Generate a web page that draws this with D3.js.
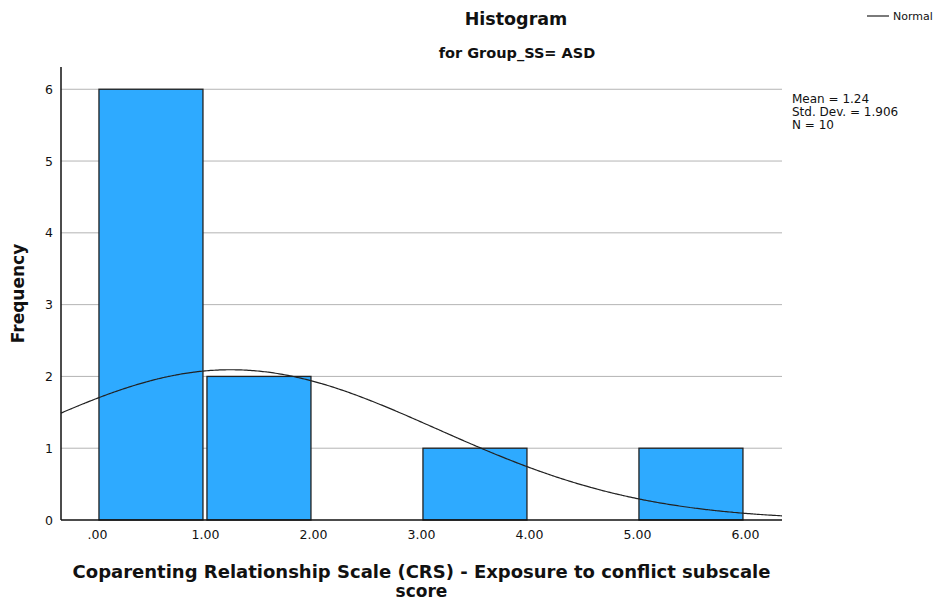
<!DOCTYPE html>
<html>
<head>
<meta charset="utf-8">
<script src="https://cdn.jsdelivr.net/npm/d3@7"></script>
<style>
  html, body { margin: 0; padding: 0; background: #fff; }
  svg { display: block; }
  text { font-family: "DejaVu Sans", "Liberation Sans", sans-serif; fill: #111; }
</style>
</head>
<body>
<svg id="chart" width="943" height="601"></svg>
<script>
// Histogram bins (lower edge, upper edge) and frequencies
const binStarts = [0, 1, 2, 3, 4, 5];
const binEnds   = [1, 2, 3, 4, 5, 6];
const counts    = [6, 2, 0, 1, 0, 1];

// Summary statistics shown beside the plot
const mean = 1.24;
const stdDev = 1.906;
const n = 10;

// Axis ticks
const xTicks = [0, 1, 2, 3, 4, 5, 6];
const yTicks = [0, 1, 2, 3, 4, 5, 6];

const svg = d3.select("#chart");
const plot = { left: 61, right: 782, top: 67, bottom: 520 };

const x = d3.scaleLinear().domain([-0.333, 6.343]).range([plot.left, plot.right]);
const y = d3.scaleLinear().domain([0, 6.31]).range([plot.bottom, plot.top]);

// Horizontal gridlines
svg.append("g")
  .selectAll("line")
  .data(yTicks.filter(d => d > 0))
  .join("line")
  .attr("x1", plot.left).attr("x2", plot.right)
  .attr("y1", d => y(d)).attr("y2", d => y(d))
  .attr("stroke", "#b4b4b4").attr("stroke-width", 1);

// Bars, with a small gap at each bin edge
const bins = binStarts.map((s, i) => ({ x0: s, x1: binEnds[i], count: counts[i] }))
  .filter(b => b.count > 0);
svg.append("g")
  .selectAll("rect")
  .data(bins)
  .join("rect")
  .attr("x", d => x(d.x0) + 2)
  .attr("y", d => y(d.count))
  .attr("width", d => x(d.x1) - x(d.x0) - 4)
  .attr("height", d => y(0) - y(d.count))
  .attr("fill", "#2eaaff")
  .attr("stroke", "#222")
  .attr("stroke-width", 1.3);

// Fitted normal curve scaled to counts (bin width 1)
const binWidth = 1;
const pdf = v => Math.exp(-0.5 * Math.pow((v - mean) / stdDev, 2)) / (stdDev * Math.sqrt(2 * Math.PI));
const curvePts = d3.range(0, 401).map(i => {
  const v = x.domain()[0] + (x.domain()[1] - x.domain()[0]) * i / 400;
  return [v, n * binWidth * pdf(v)];
});
svg.append("path")
  .datum(curvePts)
  .attr("d", d3.line().x(d => x(d[0])).y(d => y(d[1])).curve(d3.curveBasis))
  .attr("fill", "none")
  .attr("stroke", "#222")
  .attr("stroke-width", 1.2);

// Axes lines
svg.append("line")
  .attr("x1", plot.left).attr("x2", plot.left)
  .attr("y1", plot.top).attr("y2", plot.bottom)
  .attr("stroke", "#111").attr("stroke-width", 1.5);
svg.append("line")
  .attr("x1", plot.left).attr("x2", plot.right)
  .attr("y1", plot.bottom).attr("y2", plot.bottom)
  .attr("stroke", "#111").attr("stroke-width", 1.5);

// Y axis tick labels
const yAxis = d3.axisLeft(y).tickValues(yTicks).tickSize(0).tickPadding(8).tickFormat(d3.format("d"));
const gy = svg.append("g").attr("transform", `translate(${plot.left},0)`).call(yAxis);
gy.select(".domain").remove();
gy.selectAll("text").attr("font-size", 12.5).attr("font-family", "DejaVu Sans, sans-serif").attr("fill", "#222");

// X axis tick labels
const fmtX = d => d === 0 ? ".00" : d3.format(".2f")(d);
const xAxis = d3.axisBottom(x).tickValues(xTicks).tickSize(0).tickPadding(10).tickFormat(fmtX);
const gx = svg.append("g").attr("transform", `translate(0,${plot.bottom})`).call(xAxis);
gx.select(".domain").remove();
gx.selectAll("text").attr("font-size", 12.5).attr("font-family", "DejaVu Sans, sans-serif").attr("fill", "#222");

// Titles
svg.append("text").attr("x", 516).attr("y", 25).attr("text-anchor", "middle")
  .attr("font-size", 17.5).attr("font-weight", "bold").text("Histogram");
svg.append("text").attr("x", 517).attr("y", 58).attr("text-anchor", "middle")
  .attr("font-size", 14.5).attr("font-weight", "bold").text("for Group_SS= ASD");

// Axis titles
svg.append("text").attr("x", (plot.left + plot.right) / 2).attr("y", 578).attr("text-anchor", "middle")
  .attr("font-size", 18).attr("font-weight", "bold")
  .text("Coparenting Relationship Scale (CRS) - Exposure to conflict subscale");
svg.append("text").attr("x", (plot.left + plot.right) / 2).attr("y", 597).attr("text-anchor", "middle")
  .attr("font-size", 17).attr("font-weight", "bold").text("score");
svg.append("text")
  .attr("transform", `translate(24,${(plot.top + plot.bottom) / 2}) rotate(-90)`)
  .attr("text-anchor", "middle")
  .attr("font-size", 17).attr("font-weight", "bold").text("Frequency");

// Legend
svg.append("line").attr("x1", 867).attr("x2", 889).attr("y1", 16).attr("y2", 16)
  .attr("stroke", "#222").attr("stroke-width", 1.2);
svg.append("text").attr("x", 893).attr("y", 20).attr("font-size", 11).text("Normal");

// Statistics block
const stats = [`Mean = ${mean.toFixed(2)}`, `Std. Dev. = ${stdDev.toFixed(3)}`, `N = ${n}`];
svg.append("g").selectAll("text").data(stats).join("text")
  .attr("x", 792).attr("y", (d, i) => 103 + i * 13)
  .attr("font-size", 12).text(d => d);
</script>
</body>
</html>
